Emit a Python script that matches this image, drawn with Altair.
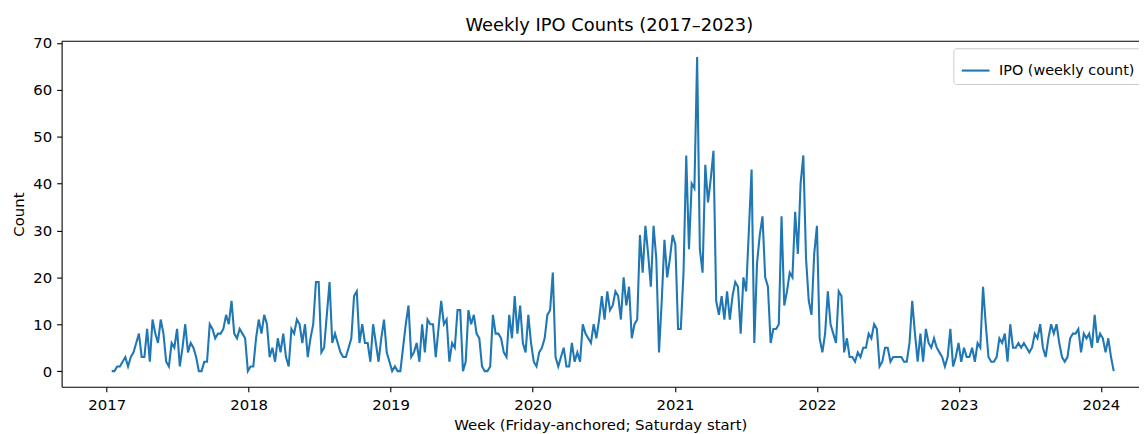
import altair as alt
import pandas as pd

# Weekly IPO counts, in order (Saturday-start weeks)
seg_2017 = [0, 0, 1, 1, 2, 3, 1, 3, 4, 6, 8, 3, 3, 9, 2, 11, 8, 6, 11, 8, 2, 1, 6, 5, 9, 1, 5, 10,
            4, 6, 5, 3, 0, 0, 2, 2, 10, 9, 7, 8, 8, 9, 12, 10, 15, 8, 7, 9, 8, 7, 0, 1]
seg_2018 = [1, 7, 11, 8, 12, 10, 3, 5,
            2, 7, 4, 8, 3, 1, 9, 8, 11, 10, 6, 10, 3, 7, 10, 19, 19, 4, 5, 12, 19, 6, 8, 6, 4, 3, 3, 5, 7, 16, 17,
            6, 10, 6, 6, 2, 10, 6, 2, 7, 11, 4, 2, 0]
seg_2019 = [1, 0, 0, 5, 10, 14, 3, 4, 6, 2, 10, 4, 11, 10, 10, 3, 9, 15,
            10, 11, 2, 6, 5, 13, 13, 0, 2, 13, 10, 12, 8, 7, 1, 0, 0, 1, 12, 8, 8, 7, 4, 3, 12, 7, 16, 8, 14, 6, 4, 12,
            6, 2, 1]
seg_2020 = [4, 5, 7, 12, 13, 21, 3, 1, 3, 5, 1, 1, 6, 2, 4, 2, 10, 8, 7, 6, 10, 7, 11, 16, 11, 17, 13, 14, 17,
            16, 11, 20, 14, 18, 7, 10, 11, 29, 21, 31, 25, 18, 31, 24, 4, 15, 28, 20, 24, 29, 27, 9, 9]
seg_2021 = [21, 46, 26, 40, 39, 67, 26,
            21, 44, 36, 41, 47, 15, 12, 16, 11, 17, 11, 16, 19, 18, 8, 20, 17, 30, 43, 6, 23, 29, 33, 20, 18, 6, 9, 9,
            10, 33, 14, 17, 21, 20, 34, 25, 40, 46, 24, 15, 12, 25, 31, 7, 4]
seg_2022 = [8, 17, 10, 8, 6, 17, 16, 4, 7, 3, 3, 2, 4, 3, 5, 5, 8,
            7, 10, 9, 1, 2, 5, 5, 2, 3, 3, 3, 3, 2, 2, 6, 15, 8, 2, 8, 2, 9, 6, 5, 7, 5, 4, 3, 1, 3, 9, 1, 3,
            6, 2, 5, 3]
seg_2023 = [3, 5, 2, 6, 5, 18, 10, 3, 2, 2, 3, 7, 6, 8, 2, 10, 5, 5, 6, 5, 6, 5, 4, 5, 8, 7, 10, 5,
            3, 7, 10, 8, 10, 6, 3, 2, 3, 7, 8, 8, 9, 4, 8, 7, 8, 5, 12, 6, 8, 7, 4, 7, 3, 0]

values = seg_2017 + seg_2018 + seg_2019 + seg_2020 + seg_2021 + seg_2022 + seg_2023
dates = pd.date_range("2017-01-14", periods=len(values), freq="7D")
df = pd.DataFrame({
    "week": dates.strftime("%Y-%m-%d"),
    "count": values,
    "series": "IPO (weekly count)",
})

year_ticks = [2017, 2018, 2019, 2020, 2021, 2022, 2023, 2024]

# matplotlib-like 5% margins; the right part of the axes is cut by the window
PLOT_W = 1085
FULL_W = 1110
first, last = dates[0], dates[-1]
span = last - first
d0 = first - span * 0.05
d1 = d0 + span * 1.1 * (PLOT_W / FULL_W)
to_ms = lambda t: int(pd.Timestamp(t).value // 10**6)
tick_ms = [to_ms(f"{y}-01-01") for y in year_ticks]

FONT = "DejaVu Sans"

line = alt.Chart(df).mark_line(strokeWidth=2.1, clip=True).encode(
    x=alt.X("week:T",
            scale=alt.Scale(type="utc", domain=[to_ms(d0), to_ms(d1)], nice=False),
            axis=alt.Axis(values=tick_ms, format="%Y", formatType="utc",
                          title="Week (Friday-anchored; Saturday start)",
                          labelFlush=False, labelOverlap=False, labelPadding=6, titlePadding=5)),
    y=alt.Y("count:Q",
            scale=alt.Scale(domain=[-3.35, 70.35], nice=False, zero=False),
            axis=alt.Axis(values=list(range(0, 71, 10)), title="Count", labelPadding=5, titlePadding=6)),
    color=alt.Color("series:N", scale=alt.Scale(range=["#1f77b4"]),
                    legend=alt.Legend(orient="none", legendX=898, legendY=7, title=None,
                                      symbolType="stroke", symbolSize=784, symbolStrokeWidth=2.1,
                                      labelFontSize=14.5, labelFont=FONT, labelColor="black",
                                      labelOffset=8, strokeColor="#cccccc", fillColor="white",
                                      cornerRadius=3, padding=7)),
)

top_border = alt.Chart(pd.DataFrame({"a": [0]})).mark_rule(color="black", strokeWidth=1.1).encode(
    x=alt.value(0), x2=alt.value(PLOT_W), y=alt.value(0)
)

chart = alt.layer(line, top_border).properties(
    width=PLOT_W,
    height=348,
    title=alt.TitleParams("Weekly IPO Counts (2017\u20132023)", fontSize=18, font=FONT,
                          fontWeight="normal", color="black", offset=1, dx=9),
    autosize=alt.AutoSizeParams(type="none"),
    padding={"left": 54, "top": 32, "right": 0, "bottom": 46},
).configure_view(stroke=None).configure_axis(
    grid=False,
    domainColor="black", domainWidth=1.1,
    tickColor="black", tickWidth=1.1, tickSize=5,
    labelFont=FONT, labelFontSize=15, labelColor="black",
    titleFont=FONT, titleFontSize=15, titleFontWeight="normal", titleColor="black",
)

chart.save("out.html", embed_options={"renderer": "svg", "actions": False})
